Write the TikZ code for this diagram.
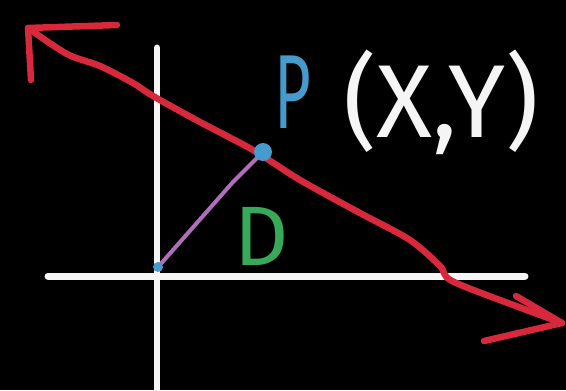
\documentclass[tikz,border=0pt]{standalone}
\usepackage{fontspec}
\setmainfont{Fira Sans}
\definecolor{redpen}{RGB}{215,40,60}
\definecolor{bluepen}{RGB}{70,155,205}
\definecolor{greenpen}{RGB}{55,170,90}
\definecolor{purplepen}{RGB}{175,110,185}
\definecolor{whitepen}{RGB}{245,245,245}
\tikzset{
  redstroke/.style={draw=redpen,line width=6.5pt*0.02/0.03515,line cap=round,line join=round},
  axisstroke/.style={draw=whitepen,line width=7pt*0.02/0.03515,line cap=round},
  purplestroke/.style={draw=purplepen,line width=4pt*0.02/0.03515,line cap=round},
  label/.style={inner sep=0pt,font=\fontsize{48}{56}\selectfont}
}
\begin{document}
\begin{tikzpicture}[x=0.02cm,y=-0.02cm]
\fill[black] (0,0) rectangle (566,390);
\useasboundingbox (0,0) rectangle (566,390);
% axes
\coordinate (xl) at (48,276);
\coordinate (xr) at (525,276);
\coordinate (yt) at (157,48);
\coordinate (yb) at (157,392);
\draw[axisstroke] (xl) -- (xr);
\draw[axisstroke] (yt) -- (yb);
% red line
\coordinate (rtip) at (28,28);
\coordinate (rh1) at (117,25);
\coordinate (rh2) at (31,80);
\coordinate (btip) at (562,323);
\coordinate (bh1) at (516,296);
\coordinate (bh2) at (484,341);
\draw[redstroke] plot[smooth,tension=0.5] coordinates {(rtip) (67,54) (100,66) (133,83) (153,96) (200,122) (253,150) (300,180) (360,213) (410,240) (440,266) (452,281) (516,306) (btip)};
\draw[redstroke] (rh1) -- (rtip) -- (rh2);
\draw[redstroke] (bh1) -- (btip) -- (bh2);
% purple segment
\coordinate (o) at (158,267);
\coordinate (p) at (263,152);
\draw[purplestroke] (o) -- (233,182) -- (p);
% points
\fill[bluepen] (o) circle (5);
\fill[bluepen] (p) circle (9);
% labels
\node[inner sep=0pt,text=bluepen,font=\fontsize{60}{70}\selectfont,xscale=0.6] (P) at (293,92) {P};
\node[inner sep=0pt,text=whitepen,font=\fontsize{59}{70}\selectfont] (xy) at (441,102) {(X,Y)};
\node[label,text=greenpen] (D) at (262,236) {D};
\end{tikzpicture}
\end{document}
